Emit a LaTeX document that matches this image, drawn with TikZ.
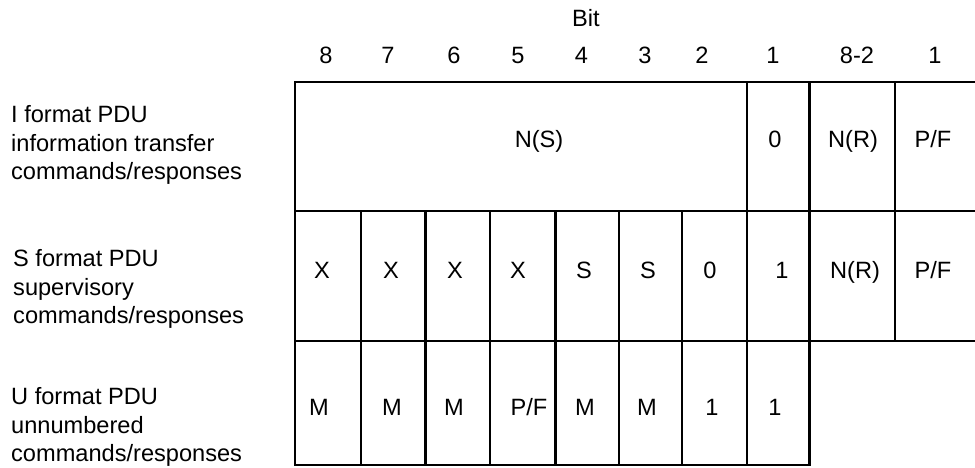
\documentclass[tikz,border=0pt]{standalone}
\usepackage{fontspec}
\setmainfont{Liberation Sans}
\begin{document}
\begin{tikzpicture}[x=1pt,y=-1pt,
  grid/.style={line width=2.4pt, line cap=rect},
  txt/.style={font=\fontsize{23.6}{28.6}\selectfont, inner sep=0pt, anchor=base},
  lbl/.style={font=\fontsize{23.6}{28.6}\selectfont, inner sep=0pt, anchor=west, align=left}]
\useasboundingbox (0,0) rectangle (975,467);
% grid
\draw[grid] (975,81.7) -- (295,81.7) -- (295,465) -- (809.5,465) -- (809.5,341);
\draw[grid] (295,211) -- (975,211);
\draw[grid] (295,341) -- (975,341);
\foreach \x in {361,425.5,490,555.5,619,682}{\draw[grid] (\x,211) -- (\x,465);}
\draw[grid] (747,81.7) -- (747,465);
\draw[grid] (809.5,81.7) -- (809.5,341);
\draw[grid] (895,81.7) -- (895,341);
% header
\node[txt] (bit) at (586,26.7) {Bit};
\node[txt] (b8) at (326,63.3) {8};
\node[txt] (b7) at (388,63.3) {7};
\node[txt] (b6) at (454,63.3) {6};
\node[txt] (b5) at (518,63.3) {5};
\node[txt] (b4) at (581.5,63.3) {4};
\node[txt] (b3) at (645,63.3) {3};
\node[txt] (b2) at (702,63.3) {2};
\node[txt] (b1) at (773,63.3) {1};
\node[txt] (b82) at (857,63.3) {8-2};
\node[txt] (b1b) at (935,63.3) {1};
% row I
\node[txt] (ns) at (539,147.3) {N(S)};
\node[txt] (i0) at (775,147.3) {0};
\node[txt] (inr) at (853,147.3) {N(R)};
\node[txt] (ipf) at (933,147.3) {P/F};
% row S
\node[txt] (s1) at (322,278.3) {X};
\node[txt] (s2) at (391,278.3) {X};
\node[txt] (s3) at (455,278.3) {X};
\node[txt] (s4) at (518,278.3) {X};
\node[txt] (s5) at (584,278.3) {S};
\node[txt] (s6) at (648,278.3) {S};
\node[txt] (s7) at (710,278.3) {0};
\node[txt] (s8) at (782,278.3) {1};
\node[txt] (snr) at (855,278.3) {N(R)};
\node[txt] (spf) at (933,278.3) {P/F};
% row U
\node[txt] (u1) at (319,415) {M};
\node[txt] (u2) at (392,415) {M};
\node[txt] (u3) at (454,415) {M};
\node[txt] (u4) at (529,415) {P/F};
\node[txt] (u5) at (585,415) {M};
\node[txt] (u6) at (647,415) {M};
\node[txt] (u7) at (712,415) {1};
\node[txt] (u8) at (775,415) {1};
% left labels
\node[lbl] (li) at (11,145) {I format PDU\\information transfer\\commands/responses};
\node[lbl] (ls) at (13,289) {S format PDU\\supervisory\\commands/responses};
\node[lbl] (lu) at (11,427) {U format PDU\\unnumbered\\commands/responses};
\end{tikzpicture}
\end{document}
